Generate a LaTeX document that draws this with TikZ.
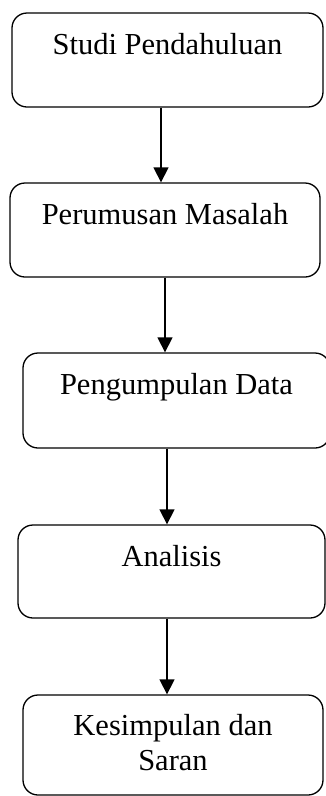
\documentclass[tikz,border=0pt]{standalone}
\usepackage{fontspec}
\setmainfont{Liberation Serif}
\usetikzlibrary{arrows.meta}

\begin{document}
\begin{tikzpicture}[x=1pt,y=-1pt,
  kotak/.style={draw, rounded corners=15pt, line width=1.3pt, inner sep=0pt,
    align=center, font=\fontsize{30.5}{35}\selectfont, text height=41pt},
  panah/.style={-{Triangle[length=15pt,width=15pt]}, line width=1.3pt}]

\useasboundingbox (0,0) rectangle (325,796);

% Alur penelitian
\node[kotak, minimum width=311pt, text depth=53pt] (studi) at (167.5,60) {Studi Pendahuluan};
\node[kotak, minimum width=310pt, text depth=53pt] (rumus) at (165,230) {Perumusan Masalah};
\node[kotak, minimum width=307pt, text depth=54pt] (kumpul) at (176.5,400.5) {Pengumpulan Data};
\node[kotak, minimum width=307pt, text depth=52pt] (analisis) at (171.5,571.5) {Analisis};
\node[kotak, minimum width=300pt, text height=75pt, text depth=25pt] (simpul) at (173,745) {Kesimpulan dan\\Saran};

\draw[panah] ([xshift=-6.5pt]studi.south) -- ([xshift=-6.5pt]studi.south |- rumus.north);
\draw[panah] (rumus.south) -- (rumus.south |- kumpul.north);
\draw[panah] ([xshift=-9.5pt]kumpul.south) -- ([xshift=-9.5pt]kumpul.south |- analisis.north);
\draw[panah] ([xshift=-4.5pt]analisis.south) -- ([xshift=-4.5pt]analisis.south |- simpul.north);

\end{tikzpicture}
\end{document}
